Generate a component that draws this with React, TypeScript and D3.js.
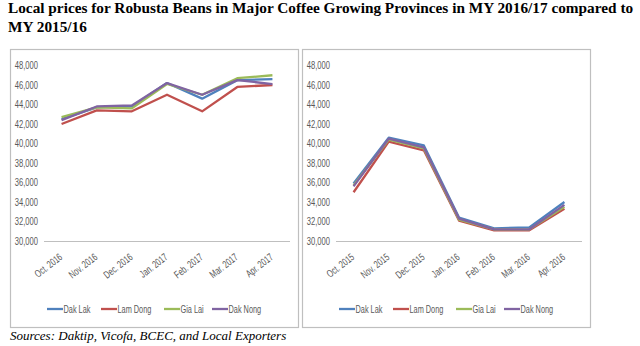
import React from "react";
import * as d3 from "d3";

const seriesNames = ["Dak Lak", "Lam Dong", "Gia Lai", "Dak Nong"];
const seriesColors = ["#4F81BD", "#C0504D", "#9BBB59", "#8064A2"];

const monthsA = ["Oct. 2016", "Nov. 2016", "Dec. 2016", "Jan. 2017", "Feb. 2017", "Mar. 2017", "Apr. 2017"];
const dakLakA = [42500, 43700, 43800, 46200, 44600, 46500, 46600];
const lamDongA = [42000, 43400, 43300, 45000, 43300, 45800, 46000];
const giaLaiA = [42700, 43700, 43600, 46100, 45000, 46700, 47000];
const dakNongA = [42400, 43800, 43900, 46200, 45000, 46500, 46100];

const monthsB = ["Oct. 2015", "Nov. 2015", "Dec. 2015", "Jan. 2016", "Feb. 2016", "Mar. 2016", "Apr. 2016"];
const dakLakB = [35900, 40600, 39800, 32400, 31300, 31400, 34000];
const lamDongB = [35000, 40200, 39300, 32100, 31100, 31100, 33300];
const giaLaiB = [35700, 40400, 39500, 32200, 31200, 31200, 33500];
const dakNongB = [35600, 40500, 39600, 32300, 31200, 31200, 33700];

const yTicks = [30000, 32000, 34000, 36000, 38000, 40000, 42000, 44000, 46000, 48000];

const sans = "'Liberation Sans', Arial, sans-serif";
const serif = "'Liberation Serif', 'Times New Roman', serif";

function NText({ transform, anchor, size, sx, children }: { transform: string; anchor?: string; size: number; sx: number; children: React.ReactNode }) {
  return (
    <g transform={`${transform} scale(${sx},1)`}>
      <text x={0} y={0} textAnchor={anchor ?? "start"} fontSize={size} fill="#595959" fontFamily={sans}>
        {children}
      </text>
    </g>
  );
}

function Panel({ left, months, series }: { left: number; months: string[]; series: number[][] }) {
  const plotL = left + 34;
  const plotR = left + 280;
  const y = d3.scaleLinear().domain([30000, 48000]).range([241, 65.5]);
  const x = d3.scaleBand<string>().domain(months).range([plotL, plotR]);
  const cx = (m: string) => (x(m) ?? 0) + x.bandwidth() / 2;
  const fmt = d3.format(",");
  const legendOffsets = [37, 91, 154, 202];
  return (
    <g>
      <rect x={left + 0.5} y={49.5} width={288} height={278} fill="#fff" stroke="#BFBFBF" strokeWidth={1.2} />
      {yTicks.map((t) => (
        <NText key={t} transform={`translate(${left + 28},${y(t) + 3.5})`} anchor="end" size={10} sx={0.76}>
          {fmt(t)}
        </NText>
      ))}
      <line x1={plotL} x2={plotR} y1={y(30000) + 0.5} y2={y(30000) + 0.5} stroke="#BFBFBF" strokeWidth={1} />
      {series.map((vals, i) => {
        const line = d3
          .line<number>()
          .x((_, j) => cx(months[j]))
          .y((v) => y(v));
        return <path key={i} d={line(vals) ?? ""} fill="none" stroke={seriesColors[i]} strokeWidth={2.3} strokeLinejoin="round" />;
      })}
      {months.map((m) => (
        <NText key={m} transform={`translate(${cx(m) + 1.5},${258.5}) rotate(-38)`} anchor="end" size={10.5} sx={0.7}>
          {m}
        </NText>
      ))}
      {seriesNames.map((n, i) => (
        <g key={n} transform={`translate(${left + legendOffsets[i]},309)`}>
          <line x1={0} x2={16} y1={0} y2={0} stroke={seriesColors[i]} strokeWidth={2.3} />
          <NText transform="translate(16.5,3.7)" size={10.5} sx={0.7}>
            {n}
          </NText>
        </g>
      ))}
    </g>
  );
}

export default function App() {
  return (
    <svg width={640} height={346} style={{ position: "absolute", left: 0, top: 0, background: "#fff" }}>
      <text x={8} y={13} fontFamily={serif} fontWeight="bold" fontSize={15.3}>
        Local prices for Robusta Beans in Major Coffee Growing Provinces in MY 2016/17 compared to
      </text>
      <text x={8} y={32} fontFamily={serif} fontWeight="bold" fontSize={15.3}>
        MY 2015/16
      </text>
      <Panel left={10} months={monthsA} series={[dakLakA, lamDongA, giaLaiA, dakNongA]} />
      <Panel left={302} months={monthsB} series={[dakLakB, lamDongB, giaLaiB, dakNongB]} />
      <text x={10} y={340} fontFamily={serif} fontStyle="italic" fontSize={13}>
        Sources: Daktip, Vicofa, BCEC, and Local Exporters
      </text>
    </svg>
  );
}
